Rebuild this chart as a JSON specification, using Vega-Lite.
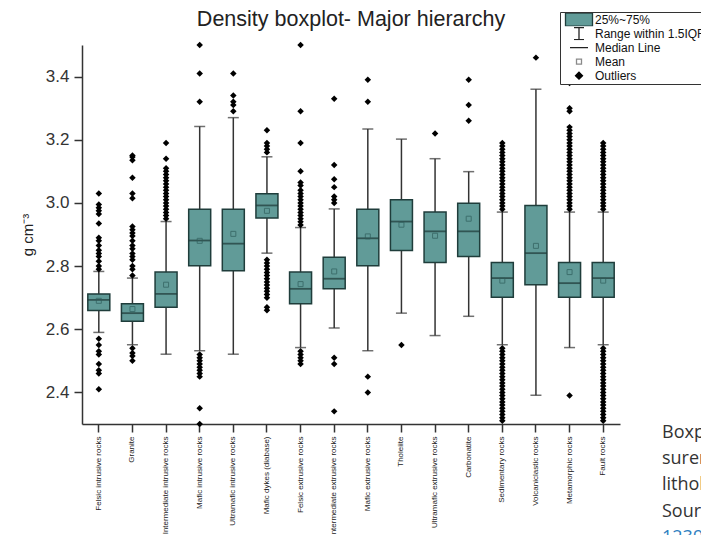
{
  "$schema": "https://vega.github.io/schema/vega-lite/v6.json",
  "padding": {"left": 20, "top": 8, "right": 0, "bottom": 0},
  "spacing": 41,
  "config": {
    "view": {"stroke": null},
    "font": "Liberation Sans",
    "legend": {
      "orient": "none", "legendX": 478, "legendY": -33,
      "strokeColor": "#333", "fillColor": "white", "padding": 1,
      "labelFont": "Liberation Sans", "labelFontSize": 12, "labelColor": "#111",
      "symbolSize": 100, "labelOffset": 22, "rowPadding": 0, "clipHeight": 13.3, "symbolStrokeWidth": 1.3, "symbolOpacity": 1
    }
  },
  "datasets": {
    "stats": [
      {"cat": "Felsic intrusive rocks", "lo": 2.59, "q1": 2.659, "med": 2.693, "q3": 2.712, "hi": 2.783, "mean": 2.69},
      {"cat": "Granite", "lo": 2.551, "q1": 2.625, "med": 2.651, "q3": 2.681, "hi": 2.762, "mean": 2.664},
      {"cat": "Intermediate intrusive rocks", "lo": 2.521, "q1": 2.67, "med": 2.712, "q3": 2.781, "hi": 2.941, "mean": 2.741},
      {"cat": "Mafic intrusive rocks", "lo": 2.532, "q1": 2.801, "med": 2.881, "q3": 2.98, "hi": 3.242, "mean": 2.88},
      {"cat": "Ultramafic intrusive rocks", "lo": 2.521, "q1": 2.785, "med": 2.871, "q3": 2.98, "hi": 3.27, "mean": 2.902},
      {"cat": "Mafic dykes (diabase)", "lo": 2.841, "q1": 2.952, "med": 2.992, "q3": 3.029, "hi": 3.146, "mean": 2.975},
      {"cat": "Felsic extrusive rocks", "lo": 2.542, "q1": 2.681, "med": 2.728, "q3": 2.781, "hi": 2.922, "mean": 2.743},
      {"cat": "Intermediate extrusive rocks", "lo": 2.604, "q1": 2.728, "med": 2.76, "q3": 2.828, "hi": 2.981, "mean": 2.783},
      {"cat": "Mafic extrusive rocks", "lo": 2.532, "q1": 2.801, "med": 2.888, "q3": 2.98, "hi": 3.234, "mean": 2.894},
      {"cat": "Tholeiite", "lo": 2.651, "q1": 2.849, "med": 2.941, "q3": 3.01, "hi": 3.202, "mean": 2.931},
      {"cat": "Ultramafic extrusive rocks", "lo": 2.58, "q1": 2.811, "med": 2.91, "q3": 2.971, "hi": 3.14, "mean": 2.896},
      {"cat": "Carbonatite", "lo": 2.641, "q1": 2.83, "med": 2.91, "q3": 2.999, "hi": 3.099, "mean": 2.95},
      {"cat": "Sedimentary rocks", "lo": 2.551, "q1": 2.701, "med": 2.762, "q3": 2.811, "hi": 2.971, "mean": 2.754},
      {"cat": "Volcaniclastic rocks", "lo": 2.391, "q1": 2.741, "med": 2.841, "q3": 2.992, "hi": 3.36, "mean": 2.864},
      {"cat": "Metamorphic rocks", "lo": 2.542, "q1": 2.701, "med": 2.746, "q3": 2.811, "hi": 2.971, "mean": 2.781},
      {"cat": "Fault rocks", "lo": 2.551, "q1": 2.701, "med": 2.762, "q3": 2.811, "hi": 2.971, "mean": 2.754}
    ],
    "outliers": [
      {"cat": "Felsic intrusive rocks", "v": 2.79}, {"cat": "Felsic intrusive rocks", "v": 2.80}, {"cat": "Felsic intrusive rocks", "v": 2.815}, {"cat": "Felsic intrusive rocks", "v": 2.83}, {"cat": "Felsic intrusive rocks", "v": 2.84}, {"cat": "Felsic intrusive rocks", "v": 2.85}, {"cat": "Felsic intrusive rocks", "v": 2.865}, {"cat": "Felsic intrusive rocks", "v": 2.88}, {"cat": "Felsic intrusive rocks", "v": 2.89}, {"cat": "Felsic intrusive rocks", "v": 2.935}, {"cat": "Felsic intrusive rocks", "v": 2.965}, {"cat": "Felsic intrusive rocks", "v": 2.975}, {"cat": "Felsic intrusive rocks", "v": 2.985}, {"cat": "Felsic intrusive rocks", "v": 2.995}, {"cat": "Felsic intrusive rocks", "v": 3.03},
      {"cat": "Felsic intrusive rocks", "v": 2.57}, {"cat": "Felsic intrusive rocks", "v": 2.55}, {"cat": "Felsic intrusive rocks", "v": 2.53}, {"cat": "Felsic intrusive rocks", "v": 2.52}, {"cat": "Felsic intrusive rocks", "v": 2.49}, {"cat": "Felsic intrusive rocks", "v": 2.47}, {"cat": "Felsic intrusive rocks", "v": 2.46}, {"cat": "Felsic intrusive rocks", "v": 2.41},
      {"cat": "Granite", "v": 2.77}, {"cat": "Granite", "v": 2.79}, {"cat": "Granite", "v": 2.80}, {"cat": "Granite", "v": 2.82}, {"cat": "Granite", "v": 2.83}, {"cat": "Granite", "v": 2.84}, {"cat": "Granite", "v": 2.855}, {"cat": "Granite", "v": 2.865}, {"cat": "Granite", "v": 2.88}, {"cat": "Granite", "v": 2.895}, {"cat": "Granite", "v": 2.905}, {"cat": "Granite", "v": 2.915}, {"cat": "Granite", "v": 2.925}, {"cat": "Granite", "v": 3.015}, {"cat": "Granite", "v": 3.03}, {"cat": "Granite", "v": 3.08}, {"cat": "Granite", "v": 3.135}, {"cat": "Granite", "v": 3.145}, {"cat": "Granite", "v": 3.15},
      {"cat": "Granite", "v": 2.54}, {"cat": "Granite", "v": 2.525}, {"cat": "Granite", "v": 2.515}, {"cat": "Granite", "v": 2.50},
      {"cat": "Intermediate intrusive rocks", "v": 2.95}, {"cat": "Intermediate intrusive rocks", "v": 2.96}, {"cat": "Intermediate intrusive rocks", "v": 2.97}, {"cat": "Intermediate intrusive rocks", "v": 2.98}, {"cat": "Intermediate intrusive rocks", "v": 2.99}, {"cat": "Intermediate intrusive rocks", "v": 3.00}, {"cat": "Intermediate intrusive rocks", "v": 3.01}, {"cat": "Intermediate intrusive rocks", "v": 3.02}, {"cat": "Intermediate intrusive rocks", "v": 3.03}, {"cat": "Intermediate intrusive rocks", "v": 3.04}, {"cat": "Intermediate intrusive rocks", "v": 3.05}, {"cat": "Intermediate intrusive rocks", "v": 3.06}, {"cat": "Intermediate intrusive rocks", "v": 3.07}, {"cat": "Intermediate intrusive rocks", "v": 3.08}, {"cat": "Intermediate intrusive rocks", "v": 3.09}, {"cat": "Intermediate intrusive rocks", "v": 3.10}, {"cat": "Intermediate intrusive rocks", "v": 3.11}, {"cat": "Intermediate intrusive rocks", "v": 3.14}, {"cat": "Intermediate intrusive rocks", "v": 3.19},
      {"cat": "Mafic intrusive rocks", "v": 3.32}, {"cat": "Mafic intrusive rocks", "v": 3.41}, {"cat": "Mafic intrusive rocks", "v": 3.50}, {"cat": "Mafic intrusive rocks", "v": 2.52}, {"cat": "Mafic intrusive rocks", "v": 2.51}, {"cat": "Mafic intrusive rocks", "v": 2.50}, {"cat": "Mafic intrusive rocks", "v": 2.49}, {"cat": "Mafic intrusive rocks", "v": 2.48}, {"cat": "Mafic intrusive rocks", "v": 2.47}, {"cat": "Mafic intrusive rocks", "v": 2.46}, {"cat": "Mafic intrusive rocks", "v": 2.45}, {"cat": "Mafic intrusive rocks", "v": 2.35}, {"cat": "Mafic intrusive rocks", "v": 2.30},
      {"cat": "Ultramafic intrusive rocks", "v": 3.29}, {"cat": "Ultramafic intrusive rocks", "v": 3.31}, {"cat": "Ultramafic intrusive rocks", "v": 3.32}, {"cat": "Ultramafic intrusive rocks", "v": 3.34}, {"cat": "Ultramafic intrusive rocks", "v": 3.41},
      {"cat": "Mafic dykes (diabase)", "v": 3.16}, {"cat": "Mafic dykes (diabase)", "v": 3.17}, {"cat": "Mafic dykes (diabase)", "v": 3.18}, {"cat": "Mafic dykes (diabase)", "v": 3.19}, {"cat": "Mafic dykes (diabase)", "v": 3.23},
      {"cat": "Mafic dykes (diabase)", "v": 2.82}, {"cat": "Mafic dykes (diabase)", "v": 2.81}, {"cat": "Mafic dykes (diabase)", "v": 2.80}, {"cat": "Mafic dykes (diabase)", "v": 2.79}, {"cat": "Mafic dykes (diabase)", "v": 2.78}, {"cat": "Mafic dykes (diabase)", "v": 2.77}, {"cat": "Mafic dykes (diabase)", "v": 2.76}, {"cat": "Mafic dykes (diabase)", "v": 2.75}, {"cat": "Mafic dykes (diabase)", "v": 2.74}, {"cat": "Mafic dykes (diabase)", "v": 2.73}, {"cat": "Mafic dykes (diabase)", "v": 2.72}, {"cat": "Mafic dykes (diabase)", "v": 2.71}, {"cat": "Mafic dykes (diabase)", "v": 2.70}, {"cat": "Mafic dykes (diabase)", "v": 2.67}, {"cat": "Mafic dykes (diabase)", "v": 2.66},
      {"cat": "Felsic extrusive rocks", "v": 2.93}, {"cat": "Felsic extrusive rocks", "v": 2.94}, {"cat": "Felsic extrusive rocks", "v": 2.95}, {"cat": "Felsic extrusive rocks", "v": 2.96}, {"cat": "Felsic extrusive rocks", "v": 2.97}, {"cat": "Felsic extrusive rocks", "v": 2.98}, {"cat": "Felsic extrusive rocks", "v": 2.99}, {"cat": "Felsic extrusive rocks", "v": 3.00}, {"cat": "Felsic extrusive rocks", "v": 3.01}, {"cat": "Felsic extrusive rocks", "v": 3.02}, {"cat": "Felsic extrusive rocks", "v": 3.03}, {"cat": "Felsic extrusive rocks", "v": 3.04}, {"cat": "Felsic extrusive rocks", "v": 3.055}, {"cat": "Felsic extrusive rocks", "v": 3.065}, {"cat": "Felsic extrusive rocks", "v": 3.10}, {"cat": "Felsic extrusive rocks", "v": 3.19}, {"cat": "Felsic extrusive rocks", "v": 3.29}, {"cat": "Felsic extrusive rocks", "v": 3.50},
      {"cat": "Felsic extrusive rocks", "v": 2.53}, {"cat": "Felsic extrusive rocks", "v": 2.52}, {"cat": "Felsic extrusive rocks", "v": 2.51}, {"cat": "Felsic extrusive rocks", "v": 2.50}, {"cat": "Felsic extrusive rocks", "v": 2.49},
      {"cat": "Intermediate extrusive rocks", "v": 3.00}, {"cat": "Intermediate extrusive rocks", "v": 3.01}, {"cat": "Intermediate extrusive rocks", "v": 3.02}, {"cat": "Intermediate extrusive rocks", "v": 3.05}, {"cat": "Intermediate extrusive rocks", "v": 3.075}, {"cat": "Intermediate extrusive rocks", "v": 3.12}, {"cat": "Intermediate extrusive rocks", "v": 3.33}, {"cat": "Intermediate extrusive rocks", "v": 2.51}, {"cat": "Intermediate extrusive rocks", "v": 2.49}, {"cat": "Intermediate extrusive rocks", "v": 2.34},
      {"cat": "Mafic extrusive rocks", "v": 3.32}, {"cat": "Mafic extrusive rocks", "v": 3.39}, {"cat": "Mafic extrusive rocks", "v": 2.45}, {"cat": "Mafic extrusive rocks", "v": 2.40},
      {"cat": "Tholeiite", "v": 2.55},
      {"cat": "Ultramafic extrusive rocks", "v": 3.22},
      {"cat": "Carbonatite", "v": 3.26}, {"cat": "Carbonatite", "v": 3.31}, {"cat": "Carbonatite", "v": 3.39},
      {"cat": "Sedimentary rocks", "v": 2.98}, {"cat": "Sedimentary rocks", "v": 2.99}, {"cat": "Sedimentary rocks", "v": 3.00}, {"cat": "Sedimentary rocks", "v": 3.01}, {"cat": "Sedimentary rocks", "v": 3.02}, {"cat": "Sedimentary rocks", "v": 3.03}, {"cat": "Sedimentary rocks", "v": 3.04}, {"cat": "Sedimentary rocks", "v": 3.05}, {"cat": "Sedimentary rocks", "v": 3.06}, {"cat": "Sedimentary rocks", "v": 3.07}, {"cat": "Sedimentary rocks", "v": 3.08}, {"cat": "Sedimentary rocks", "v": 3.09}, {"cat": "Sedimentary rocks", "v": 3.10}, {"cat": "Sedimentary rocks", "v": 3.11}, {"cat": "Sedimentary rocks", "v": 3.12}, {"cat": "Sedimentary rocks", "v": 3.13}, {"cat": "Sedimentary rocks", "v": 3.14}, {"cat": "Sedimentary rocks", "v": 3.15}, {"cat": "Sedimentary rocks", "v": 3.16}, {"cat": "Sedimentary rocks", "v": 3.17}, {"cat": "Sedimentary rocks", "v": 3.18}, {"cat": "Sedimentary rocks", "v": 3.19},
      {"cat": "Sedimentary rocks", "v": 2.54}, {"cat": "Sedimentary rocks", "v": 2.53}, {"cat": "Sedimentary rocks", "v": 2.52}, {"cat": "Sedimentary rocks", "v": 2.51}, {"cat": "Sedimentary rocks", "v": 2.50}, {"cat": "Sedimentary rocks", "v": 2.49}, {"cat": "Sedimentary rocks", "v": 2.48}, {"cat": "Sedimentary rocks", "v": 2.47}, {"cat": "Sedimentary rocks", "v": 2.46}, {"cat": "Sedimentary rocks", "v": 2.45}, {"cat": "Sedimentary rocks", "v": 2.44}, {"cat": "Sedimentary rocks", "v": 2.43}, {"cat": "Sedimentary rocks", "v": 2.42}, {"cat": "Sedimentary rocks", "v": 2.41}, {"cat": "Sedimentary rocks", "v": 2.40}, {"cat": "Sedimentary rocks", "v": 2.39}, {"cat": "Sedimentary rocks", "v": 2.38}, {"cat": "Sedimentary rocks", "v": 2.37}, {"cat": "Sedimentary rocks", "v": 2.36}, {"cat": "Sedimentary rocks", "v": 2.35}, {"cat": "Sedimentary rocks", "v": 2.34}, {"cat": "Sedimentary rocks", "v": 2.33}, {"cat": "Sedimentary rocks", "v": 2.32}, {"cat": "Sedimentary rocks", "v": 2.31},
      {"cat": "Volcaniclastic rocks", "v": 3.46},
      {"cat": "Metamorphic rocks", "v": 2.98}, {"cat": "Metamorphic rocks", "v": 2.99}, {"cat": "Metamorphic rocks", "v": 3.00}, {"cat": "Metamorphic rocks", "v": 3.01}, {"cat": "Metamorphic rocks", "v": 3.02}, {"cat": "Metamorphic rocks", "v": 3.03}, {"cat": "Metamorphic rocks", "v": 3.04}, {"cat": "Metamorphic rocks", "v": 3.05}, {"cat": "Metamorphic rocks", "v": 3.06}, {"cat": "Metamorphic rocks", "v": 3.07}, {"cat": "Metamorphic rocks", "v": 3.08}, {"cat": "Metamorphic rocks", "v": 3.09}, {"cat": "Metamorphic rocks", "v": 3.10}, {"cat": "Metamorphic rocks", "v": 3.11}, {"cat": "Metamorphic rocks", "v": 3.12}, {"cat": "Metamorphic rocks", "v": 3.13}, {"cat": "Metamorphic rocks", "v": 3.14}, {"cat": "Metamorphic rocks", "v": 3.15}, {"cat": "Metamorphic rocks", "v": 3.16}, {"cat": "Metamorphic rocks", "v": 3.17}, {"cat": "Metamorphic rocks", "v": 3.18}, {"cat": "Metamorphic rocks", "v": 3.19}, {"cat": "Metamorphic rocks", "v": 3.20}, {"cat": "Metamorphic rocks", "v": 3.21}, {"cat": "Metamorphic rocks", "v": 3.22}, {"cat": "Metamorphic rocks", "v": 3.23}, {"cat": "Metamorphic rocks", "v": 3.24}, {"cat": "Metamorphic rocks", "v": 3.29}, {"cat": "Metamorphic rocks", "v": 3.30}, {"cat": "Metamorphic rocks", "v": 3.38}, {"cat": "Metamorphic rocks", "v": 2.39},
      {"cat": "Fault rocks", "v": 2.98}, {"cat": "Fault rocks", "v": 2.99}, {"cat": "Fault rocks", "v": 3.00}, {"cat": "Fault rocks", "v": 3.01}, {"cat": "Fault rocks", "v": 3.02}, {"cat": "Fault rocks", "v": 3.03}, {"cat": "Fault rocks", "v": 3.04}, {"cat": "Fault rocks", "v": 3.05}, {"cat": "Fault rocks", "v": 3.06}, {"cat": "Fault rocks", "v": 3.07}, {"cat": "Fault rocks", "v": 3.08}, {"cat": "Fault rocks", "v": 3.09}, {"cat": "Fault rocks", "v": 3.10}, {"cat": "Fault rocks", "v": 3.11}, {"cat": "Fault rocks", "v": 3.12}, {"cat": "Fault rocks", "v": 3.13}, {"cat": "Fault rocks", "v": 3.14}, {"cat": "Fault rocks", "v": 3.15}, {"cat": "Fault rocks", "v": 3.16}, {"cat": "Fault rocks", "v": 3.17}, {"cat": "Fault rocks", "v": 3.18}, {"cat": "Fault rocks", "v": 3.19},
      {"cat": "Fault rocks", "v": 2.54}, {"cat": "Fault rocks", "v": 2.53}, {"cat": "Fault rocks", "v": 2.52}, {"cat": "Fault rocks", "v": 2.51}, {"cat": "Fault rocks", "v": 2.50}, {"cat": "Fault rocks", "v": 2.49}, {"cat": "Fault rocks", "v": 2.48}, {"cat": "Fault rocks", "v": 2.47}, {"cat": "Fault rocks", "v": 2.46}, {"cat": "Fault rocks", "v": 2.45}, {"cat": "Fault rocks", "v": 2.44}, {"cat": "Fault rocks", "v": 2.43}, {"cat": "Fault rocks", "v": 2.42}, {"cat": "Fault rocks", "v": 2.41}, {"cat": "Fault rocks", "v": 2.40}, {"cat": "Fault rocks", "v": 2.39}, {"cat": "Fault rocks", "v": 2.38}, {"cat": "Fault rocks", "v": 2.37}, {"cat": "Fault rocks", "v": 2.36}, {"cat": "Fault rocks", "v": 2.35}, {"cat": "Fault rocks", "v": 2.34}, {"cat": "Fault rocks", "v": 2.33}, {"cat": "Fault rocks", "v": 2.32}, {"cat": "Fault rocks", "v": 2.31}
    ],
    "legend": [
      {"item": "25%~75%"}, {"item": "Range within 1.5IQR"}, {"item": "Median Line"}, {"item": "Mean"}, {"item": "Outliers"}
    ],
    "caption": [
      {"line": 1, "text": "Boxplots of", "kind": "caption"},
      {"line": 2, "text": "surements", "kind": "caption"},
      {"line": 3, "text": "lithology", "kind": "caption"},
      {"line": 4, "text": "Source", "kind": "caption"},
      {"line": 5, "text": "1239", "kind": "link"}
    ]
  },
  "hconcat": [
    {
      "width": 538,
      "height": 379,
      "title": {"text": "Density boxplot- Major hierarchy", "fontSize": 21.5, "fontWeight": "normal", "font": "Liberation Sans", "color": "#222", "anchor": "middle", "offset": 11.5},
      "encoding": {
        "x": {
          "field": "cat", "type": "nominal",
          "scale": {"domain": ["Felsic intrusive rocks", "Granite", "Intermediate intrusive rocks", "Mafic intrusive rocks", "Ultramafic intrusive rocks", "Mafic dykes (diabase)", "Felsic extrusive rocks", "Intermediate extrusive rocks", "Mafic extrusive rocks", "Tholeiite", "Ultramafic extrusive rocks", "Carbonatite", "Sedimentary rocks", "Volcaniclastic rocks", "Metamorphic rocks", "Fault rocks"], "paddingInner": 0, "paddingOuter": 0},
          "axis": {"title": null, "labelAngle": -90, "labelFontSize": 8, "labelColor": "#222", "labelPadding": 4, "tickSize": 8, "tickColor": "#333", "tickWidth": 1.5, "domainColor": "#333", "domainWidth": 1.5, "labelLimit": 0}
        }
      },
      "layer": [
        {
          "data": {"name": "stats"},
          "mark": {"type": "rule", "color": "#333", "strokeWidth": 1.5},
          "encoding": {
            "y": {
              "field": "lo", "type": "quantitative", "title": "g cm⁻³",
              "scale": {"domain": [2.3, 3.5], "nice": false, "zero": false},
              "axis": {
                "values": [2.4, 2.5, 2.6, 2.7, 2.8, 2.9, 3.0, 3.1, 3.2, 3.3, 3.4],
                "format": ".1f",
                "labelExpr": "round(datum.value*10) % 2 == 0 ? datum.label : ''",
                "tickSize": {"condition": {"test": "round(datum.value*10) % 2 == 0", "value": 8}, "value": 4},
                "labelFontSize": 17, "labelColor": "#333", "labelPadding": 5,
                "domainColor": "#333", "domainWidth": 1.5, "tickColor": "#333", "tickWidth": 1.5,
                "titleFontSize": 15, "titleFontWeight": "normal", "titleColor": "#222", "titlePadding": 10,
                "grid": false
              }
            },
            "y2": {"field": "hi"}
          }
        },
        {
          "data": {"name": "stats"},
          "mark": {"type": "tick", "color": "#333", "thickness": 1.5, "size": 11},
          "encoding": {"y": {"field": "lo", "type": "quantitative"}}
        },
        {
          "data": {"name": "stats"},
          "mark": {"type": "tick", "color": "#333", "thickness": 1.5, "size": 11},
          "encoding": {"y": {"field": "hi", "type": "quantitative"}}
        },
        {
          "data": {"name": "stats"},
          "mark": {"type": "bar", "fill": "#619b98", "stroke": "#1f3d3b", "strokeWidth": 1.5, "size": 22},
          "encoding": {"y": {"field": "q1", "type": "quantitative"}, "y2": {"field": "q3"}}
        },
        {
          "data": {"name": "stats"},
          "mark": {"type": "tick", "color": "#1d3836", "thickness": 1.8, "size": 22},
          "encoding": {"y": {"field": "med", "type": "quantitative"}}
        },
        {
          "data": {"name": "stats"},
          "mark": {"type": "point", "shape": "square", "filled": false, "size": 25, "stroke": "#2f5d5b", "strokeWidth": 1},
          "encoding": {"y": {"field": "mean", "type": "quantitative"}}
        },
        {
          "data": {"name": "outliers"},
          "mark": {"type": "point", "shape": "diamond", "filled": true, "size": 42, "color": "#000", "opacity": 1},
          "encoding": {"y": {"field": "v", "type": "quantitative"}}
        },
        {
          "data": {"name": "legend"},
          "mark": {"type": "point", "opacity": 0},
          "encoding": {
            "shape": {"field": "item", "type": "nominal", "title": null,
              "scale": {"domain": ["25%~75%", "Range within 1.5IQR", "Median Line", "Mean", "Outliers"],
                "range": ["M-0.3,-1.3H5.1V1.3H-0.3Z", "M1.4,-1.2H3.4M2.4,-1.2V1.2M1.4,1.2H3.4", "M0.6,0H4.2", "M1.9,-0.5H2.9V0.5H1.9Z", "M2.4,-0.7L3.1,0L2.4,0.7L1.7,0Z"]}},
            "fill": {"field": "item", "type": "nominal", "title": null,
              "scale": {"domain": ["25%~75%", "Range within 1.5IQR", "Median Line", "Mean", "Outliers"],
                "range": ["#619b98", "transparent", "transparent", "white", "#000"]}},
            "stroke": {"field": "item", "type": "nominal", "title": null,
              "scale": {"domain": ["25%~75%", "Range within 1.5IQR", "Median Line", "Mean", "Outliers"],
                "range": ["#1f3d3b", "#222", "#222", "#8a8a8a", "#000"]}}
          }
        }
      ]
    },
    {
      "width": 2,
      "height": 530,
      "data": {"name": "caption"},
      "mark": {"type": "text", "align": "left", "baseline": "middle", "font": "Open Sans", "fontSize": 18},
      "encoding": {
        "y": {"field": "line", "type": "quantitative", "scale": {"domain": [-13.81, 6.42], "reverse": true, "nice": false, "zero": false}, "axis": null},
        "text": {"field": "text"},
        "color": {"field": "kind", "type": "nominal", "scale": {"domain": ["caption", "link"], "range": ["#333333", "#2f7fc1"]}, "legend": null}
      }
    }
  ]
}
